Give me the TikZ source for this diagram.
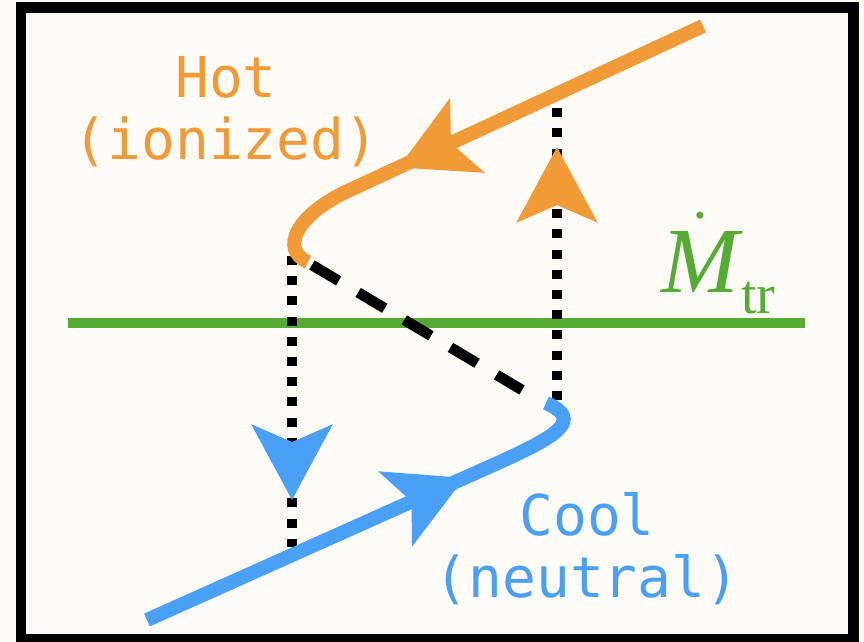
\documentclass[tikz,border=0pt]{standalone}
\usepackage{fontspec}
\usetikzlibrary{arrows.meta,decorations.markings}
\newfontfamily\labelfont{DejaVu Sans Mono}
\newfontfamily\ratefont{Liberation Serif}
\definecolor{hotc}{RGB}{240,154,56}
\definecolor{coolc}{RGB}{74,160,245}
\definecolor{mdotc}{RGB}{84,172,52}
\definecolor{paper}{RGB}{255,252,247}
\begin{document}
\begin{tikzpicture}[
	hot/.style={draw=hotc, line width=4pt},
	cool/.style={draw=coolc, line width=4pt},
	jump/.style={line width=2.85pt, dash pattern=on 0.09cm off 0.112cm},
	switch/.style={line width=3pt, dash pattern=on 0.31cm off 0.227cm},
	flowmark/.style 2 args={postaction={decorate}, decoration={markings,
		mark=at position #1 with {\arrow{Stealth[length=0.75cm, width=0.8cm, inset=0.17cm, color=#2]}}}},
	lbl/.style={font=\labelfont\fontsize{16}{17.6}\selectfont, align=center, inner sep=0pt}
]
	\useasboundingbox (0,0) rectangle (8.64,6.42);
	\fill[paper] (0,0) rectangle (8.64,6.42);
	\draw[line width=3pt] (0.21,0.03) rectangle (8.535,6.345);

	\coordinate (hotstart) at (7.03,6.16);
	\coordinate (hotbend) at (3.50,4.52);
	\coordinate (hotend) at (3.08,3.80);
	\coordinate (coolstart) at (1.47,0.22);
	\coordinate (coolbend) at (5.00,1.80);
	\coordinate (coolend) at (5.46,2.39);

	\coordinate (dashA) at (3.12,3.77);
	\coordinate (dashB) at (5.22,2.52);
	\coordinate (downtop) at (2.92,3.86);
	\coordinate (downbot) at (2.92,0.95);
	\coordinate (upbot) at (5.57,2.42);
	\coordinate (uptop) at (5.57,5.34);
	\coordinate (mleft) at (0.68,3.19);
	\coordinate (mright) at (8.05,3.19);

	\node[lbl, text=hotc] at (2.26,5.30) (hotlabel) {Hot\\(ionized)};
	\node[lbl, text=coolc] at (5.87,0.93) (coollabel) {Cool\\(neutral)};
	\node[text=mdotc, anchor=base west, inner sep=0pt, font=\ratefont\fontsize{26.5}{28}\selectfont] at (6.61,3.49) (mdot)
		{$\dot{\hbox{\itshape M}}$\kern0.5pt\raisebox{-5.7pt}{\fontsize{16}{16}\selectfont tr}};
	\node[anchor=east, inner sep=0pt, font=\fontsize{16}{18}\selectfont] at (0.04,4.65) (cutparen) {)};

	\draw[mdotc, line width=2.85pt] (mleft) -- (mright);
	\draw[jump, flowmark={2.44cm}{coolc}] (downtop) -- (downbot);
	\draw[jump, flowmark={2.53cm}{hotc}] (upbot) -- (uptop);
	\draw[switch] (dashA) -- (dashB);
	\draw[hot, flowmark={3.36cm}{hotc}] (hotstart) -- (hotbend) .. controls (2.95,4.27) and (2.80,3.92) .. (hotend);
	\draw[cool, flowmark={3.48cm}{coolc}] (coolstart) -- (coolbend) .. controls (5.55,2.05) and (5.85,2.22) .. (coolend);
\end{tikzpicture}
\end{document}
